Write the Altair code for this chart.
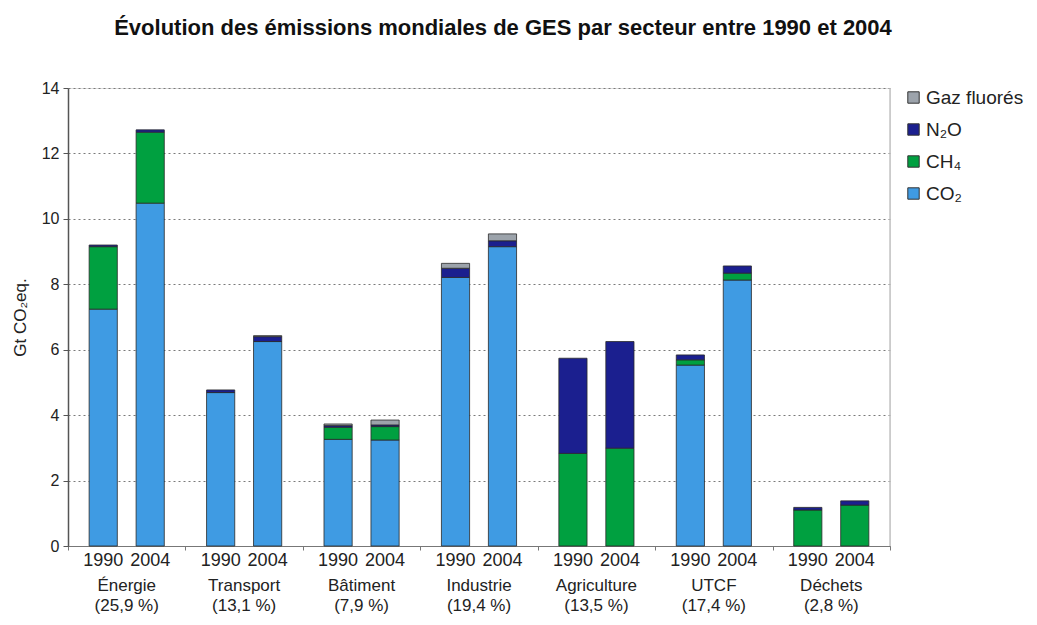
import altair as alt
import pandas as pd

sectors = ["Énergie", "Transport", "Bâtiment", "Industrie", "Agriculture", "UTCF", "Déchets"]
shares = ["(25,9 %)", "(13,1 %)", "(7,9 %)", "(19,4 %)", "(13,5 %)", "(17,4 %)", "(2,8 %)"]
years = ["1990", "2004"]
gases = ["Gaz fluorés", "N₂O", "CH₄", "CO₂"]
gas_colors = ["#9ca3ab", "#1b1f8f", "#00a040", "#3f9be3"]

co2_1990 = [7.24, 4.69, 3.26, 8.21, 0.0, 5.53, 0.0]
co2_2004 = [10.48, 6.25, 3.24, 9.15, 0.0, 8.13, 0.0]
ch4_1990 = [1.91, 0.0, 0.37, 0.0, 2.83, 0.16, 1.10]
ch4_2004 = [2.17, 0.0, 0.41, 0.0, 2.99, 0.21, 1.25]
n2o_1990 = [0.05, 0.08, 0.05, 0.28, 2.91, 0.15, 0.08]
n2o_2004 = [0.07, 0.15, 0.05, 0.18, 3.26, 0.22, 0.13]
fgas_1990 = [0.0, 0.0, 0.05, 0.15, 0.0, 0.0, 0.0]
fgas_2004 = [0.0, 0.03, 0.15, 0.21, 0.0, 0.0, 0.0]

series = {
    ("CO₂", "1990"): co2_1990, ("CO₂", "2004"): co2_2004,
    ("CH₄", "1990"): ch4_1990, ("CH₄", "2004"): ch4_2004,
    ("N₂O", "1990"): n2o_1990, ("N₂O", "2004"): n2o_2004,
    ("Gaz fluorés", "1990"): fgas_1990, ("Gaz fluorés", "2004"): fgas_2004,
}
stack_order = {"CO₂": 0, "CH₄": 1, "N₂O": 2, "Gaz fluorés": 3}

rows = []
for (gas, yr), vals in series.items():
    for s, v in zip(sectors, vals):
        if v > 0:
            rows.append({"secteur": s, "annee": yr, "gaz": gas, "valeur": v, "ordre": stack_order[gas]})
df = pd.DataFrame(rows)

yr_rows = [{"secteur": s, "annee": y} for s in sectors for y in years]
df_years = pd.DataFrame(yr_rows)
df_sect = pd.DataFrame({"secteur": sectors, "etiquette": [s + "\n" + p for s, p in zip(sectors, shares)]})

W, H = 822, 458
FONT = "Liberation Sans"

xscale = alt.Scale(domain=sectors, paddingInner=0, paddingOuter=0)
xoff = alt.Scale(domain=years, paddingInner=0.4, paddingOuter=0.45)

bars = alt.Chart(df).mark_bar(stroke="#2a2a2a", strokeWidth=0.8).encode(
    x=alt.X("secteur:N", scale=xscale, sort=sectors,
            axis=alt.Axis(title=None, labels=False, tickBand="extent", tickSize=4,
                          domainColor="#777777", tickColor="#777777", grid=False)),
    xOffset=alt.XOffset("annee:N", scale=xoff),
    y=alt.Y("valeur:Q", stack="zero",
            scale=alt.Scale(domain=[0, 14]),
            axis=alt.Axis(title="Gt CO₂eq.", values=list(range(0, 15, 2)),
                          titleFont=FONT, titleFontSize=17, titleFontWeight="normal",
                          titleColor="#222222", titlePadding=12,
                          labelFont=FONT, labelFontSize=16, labelColor="#222222",
                          labelPadding=4, tickSize=5, tickColor="#555555",
                          domainColor="#555555", domainWidth=1.5,
                          grid=True, gridDash=[2, 3], gridColor="#7a7a7a", gridWidth=1)),
    color=alt.Color("gaz:N", scale=alt.Scale(domain=gases, range=gas_colors),
                    legend=alt.Legend(title=None, orient="none", legendX=W + 14, legendY=0,
                                      symbolType="square", symbolSize=130,
                                      symbolStrokeColor="#333333", symbolStrokeWidth=1,
                                      labelFont=FONT, labelFontSize=19, labelColor="#222222",
                                      rowPadding=12, labelOffset=3)),
    order=alt.Order("ordre:Q", sort="ascending"),
)

year_text = alt.Chart(df_years).mark_text(font=FONT, fontSize=18, color="#222222", baseline="middle").encode(
    x=alt.X("secteur:N", scale=xscale, sort=sectors),
    xOffset=alt.XOffset("annee:N", scale=xoff),
    y=alt.value(H + 15),
    text="annee:N",
)

sect_text = alt.Chart(df_sect).mark_text(font=FONT, fontSize=17, color="#222222", baseline="middle",
                                         lineBreak="\n", lineHeight=20).encode(
    x=alt.X("secteur:N", scale=xscale, sort=sectors),
    y=alt.value(H + 40),
    text="etiquette:N",
)

frame = alt.Chart(pd.DataFrame({"a": [0]})).mark_rule(color="#c4c4c4", strokeWidth=1.5).encode(
    x=alt.value(W), y=alt.value(0), y2=alt.value(H)
)

chart = alt.layer(bars, year_text, sect_text, frame).properties(
    width=W, height=H,
    title=alt.TitleParams("Évolution des émissions mondiales de GES par secteur entre 1990 et 2004",
                          font=FONT, fontSize=22, fontWeight="bold", color="#111111",
                          anchor="middle", dx=24, offset=40),
    autosize=alt.AutoSizeParams(type="none"),
    padding={"left": 60, "top": 80, "right": 139, "bottom": 71},
).configure_view(stroke=None).configure(background="white")

chart.save("out.html", embed_options={"renderer": "svg", "actions": False})
